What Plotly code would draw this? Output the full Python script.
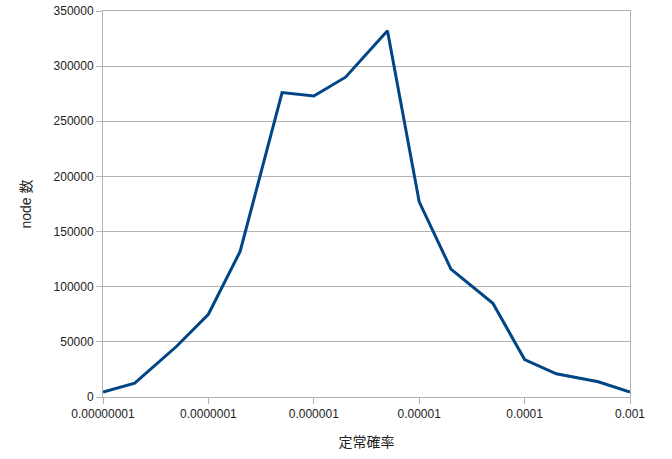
import plotly.graph_objects as go

# stationary probability (x) and node counts (y)
prob = [1e-8, 2e-8, 5e-8, 1e-7, 2e-7, 5e-7, 1e-6, 2e-6, 5e-6,
        1e-5, 2e-5, 5e-5, 1e-4, 2e-4, 5e-4, 1e-3]
nodes = [4500, 12500, 46000, 75000, 132000, 276000, 273000, 290000, 332000,
         177000, 116000, 85000, 34000, 21000, 13800, 4500]

x_tickvals = [1e-8, 1e-7, 1e-6, 1e-5, 1e-4, 1e-3]
x_ticktext = ["0.00000001", "0.0000001", "0.000001", "0.00001", "0.0001", "0.001"]
y_tickvals = [0, 50000, 100000, 150000, 200000, 250000, 300000, 350000]
y_ticktext = [str(v) for v in y_tickvals]

fig = go.Figure(go.Scatter(
    x=prob, y=nodes, mode="lines",
    line=dict(color="#004586", width=3),
    showlegend=False,
))

font = dict(family="Liberation Sans, Arial, sans-serif", size=12, color="#222222")

fig.update_layout(
    width=672, height=459,
    margin=dict(l=103, r=42, t=11, b=62),
    paper_bgcolor="white", plot_bgcolor="white",
    font=font,
)
fig.update_xaxes(
    type="log", range=[-8, -3],
    tickvals=x_tickvals, ticktext=x_ticktext,
    showgrid=False, showline=True, linecolor="#b3b3b3", linewidth=1,
    mirror=True, ticks="outside", ticklen=6, tickcolor="#b3b3b3",
    title=dict(text="定常確率", font=dict(size=14, family="Noto Sans CJK JP, sans-serif"), standoff=16),
    zeroline=False, automargin=False,
)
fig.update_yaxes(
    range=[0, 350000], tickvals=y_tickvals, ticktext=y_ticktext,
    showgrid=True, gridcolor="#b3b3b3", gridwidth=1,
    showline=True, linecolor="#b3b3b3", linewidth=1, mirror=True,
    ticks="outside", ticklen=6, tickcolor="#b3b3b3",
    title=dict(text="node 数", font=dict(size=14, family="Liberation Sans, Noto Sans CJK JP, sans-serif"), standoff=18),
    zeroline=False, automargin=False,
)

fig.write_html("out.html")
